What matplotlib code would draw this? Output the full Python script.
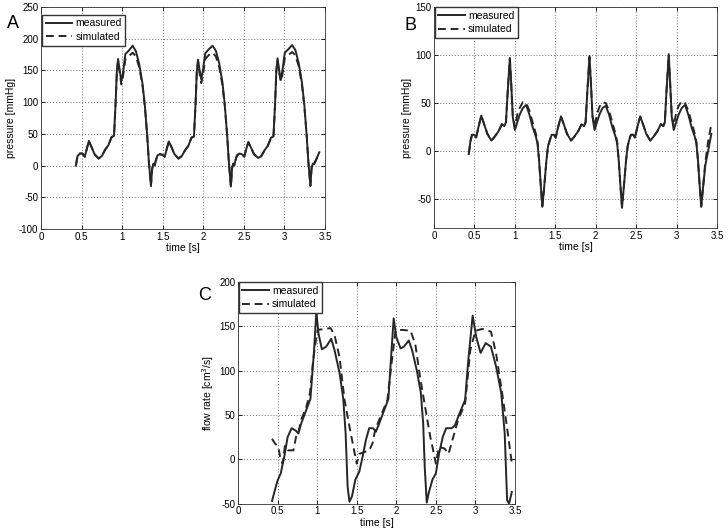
import matplotlib
matplotlib.use("Agg")
import matplotlib.pyplot as plt

plt.rcParams['font.family'] = ['Liberation Sans', 'DejaVu Sans']
plt.rcParams['axes.unicode_minus'] = False

# ---- panel A: pressure ----
t_a = [0.43, 0.45, 0.48, 0.51, 0.54, 0.56, 0.59, 0.62, 0.66, 0.71, 0.75, 0.79, 0.83, 0.87, 0.90,
       0.92, 0.935, 0.95, 0.97, 0.99, 1.01, 1.04, 1.08, 1.13, 1.17, 1.21, 1.25, 1.28, 1.31, 1.33,
       1.355, 1.37, 1.385, 1.40,
       1.415, 1.435, 1.465, 1.495, 1.525, 1.545, 1.575, 1.605, 1.645, 1.695, 1.735, 1.775, 1.815,
       1.855, 1.885, 1.905, 1.92, 1.935, 1.955, 1.975, 1.995, 2.025, 2.065, 2.115, 2.155, 2.195,
       2.235, 2.265, 2.295, 2.315, 2.34, 2.355, 2.37, 2.385,
       2.395, 2.415, 2.445, 2.475, 2.505, 2.525, 2.555, 2.585, 2.625, 2.675, 2.715, 2.755, 2.795,
       2.835, 2.865, 2.885, 2.90, 2.915, 2.935, 2.955, 2.975, 3.005, 3.045, 3.095, 3.135, 3.175,
       3.215, 3.245, 3.275, 3.295, 3.32, 3.335, 3.35, 3.365, 3.40, 3.43]
a_meas = [0, 15, 19, 19, 14, 24, 39, 30, 18, 11, 15, 25, 32, 45, 47,
          100, 150, 168, 150, 133, 145, 176, 181, 189, 180, 160, 130, 95, 45, 5,
          -32, -5, 3, 0,
          8, 16, 18, 17, 14, 24, 38, 30, 18, 11, 15, 24, 31,
          44, 46, 98, 148, 167, 150, 136, 150, 177, 183, 189, 181, 162,
          132, 96, 46, 6, -33, -4, 3, 1,
          8, 16, 19, 18, 14, 24, 37, 29, 18, 12, 15, 24, 31,
          44, 46, 98, 150, 169, 150, 135, 150, 178, 183, 190, 182, 162,
          132, 96, 46, 6, -32, -3, 3, 2, 12, 21]
a_sim = [0, 15, 19, 19, 14, 24, 39, 30, 18, 11, 15, 25, 32, 45, 47,
         100, 148, 165, 146, 128, 140, 168, 172, 178, 172, 155, 127, 93, 45, 5,
         -32, -5, 3, 0,
         8, 16, 18, 17, 14, 24, 38, 30, 18, 11, 15, 24, 31,
         44, 46, 98, 146, 164, 145, 130, 142, 168, 174, 178, 172, 156,
         128, 94, 46, 6, -33, -4, 3, 1,
         8, 16, 19, 18, 14, 24, 37, 29, 18, 12, 15, 24, 31,
         44, 46, 98, 148, 166, 147, 133, 143, 170, 174, 179, 174, 157,
         128, 94, 46, 6, -32, -3, 3, 2, 12, 21]

# ---- panel B: pressure ----
t_b = [0.43, 0.45, 0.47, 0.50, 0.52, 0.55, 0.585, 0.62, 0.66, 0.71, 0.75, 0.80, 0.84, 0.87, 0.89,
       0.91, 0.938, 0.955, 0.975, 1.0, 1.03, 1.06, 1.10, 1.14, 1.18, 1.22, 1.26, 1.28, 1.30, 1.32,
       1.34, 1.36, 1.39, 1.41,
       1.435, 1.455, 1.485, 1.505, 1.535, 1.57, 1.605, 1.645, 1.695, 1.735, 1.785, 1.825, 1.855,
       1.875, 1.895, 1.923, 1.94, 1.96, 1.985, 2.015, 2.045, 2.085, 2.125, 2.165, 2.205, 2.245,
       2.265, 2.285, 2.305, 2.325, 2.345, 2.375, 2.395,
       2.415, 2.435, 2.465, 2.485, 2.515, 2.55, 2.585, 2.625, 2.675, 2.715, 2.765, 2.805, 2.835,
       2.855, 2.875, 2.903, 2.92, 2.94, 2.965, 2.995, 3.025, 3.065, 3.105, 3.145, 3.185, 3.225,
       3.245, 3.265, 3.285, 3.305, 3.325, 3.355, 3.39, 3.43]
b_meas = [-3, 10, 17, 17, 14, 25, 37, 28, 18, 11, 15, 21, 28, 26, 30,
          60, 97, 70, 35, 22, 30, 38, 45, 48, 38, 25, 15, 8, -10, -35,
          -58, -40, -10, 5,
          12, 17, 17, 14, 25, 36, 28, 18, 11, 15, 21, 28, 26,
          30, 60, 99, 72, 36, 22, 30, 38, 45, 47, 38, 25, 15,
          8, -10, -35, -59, -40, -10, 5,
          12, 17, 17, 14, 25, 36, 28, 18, 11, 15, 21, 28, 26,
          30, 62, 101, 72, 36, 22, 30, 38, 45, 48, 38, 25, 15,
          8, -10, -35, -58, -40, -15, 0, 18]
b_sim = [-3, 10, 17, 17, 14, 25, 37, 28, 18, 11, 15, 21, 28, 26, 30,
         60, 96, 70, 36, 25, 38, 45, 51, 50, 42, 30, 18, 10, -10, -35,
         -57, -40, -10, 5,
         12, 17, 17, 14, 25, 36, 28, 18, 11, 15, 21, 28, 26,
         30, 60, 98, 72, 37, 26, 38, 46, 51, 50, 42, 30, 18,
         10, -10, -35, -58, -40, -10, 5,
         12, 17, 17, 14, 25, 36, 28, 18, 11, 15, 21, 28, 26,
         30, 62, 100, 72, 37, 26, 40, 47, 52, 50, 42, 30, 18,
         10, -10, -35, -57, -40, -12, 10, 28]

# ---- panel C: flow rate ----
t_c_meas = [0.43, 0.466, 0.50, 0.54, 0.585, 0.627, 0.678, 0.733, 0.763, 0.797, 0.86, 0.915, 0.958,
            0.99, 1.017, 1.06, 1.114, 1.178, 1.22, 1.284, 1.33, 1.36, 1.385, 1.408, 1.44, 1.483,
            1.533, 1.575, 1.617, 1.658, 1.708, 1.742, 1.783, 1.846, 1.90, 1.94, 1.967, 2.0, 2.054,
            2.096, 2.158, 2.20, 2.26, 2.31, 2.34, 2.36, 2.385, 2.41, 2.457, 2.50, 2.54, 2.587,
            2.63, 2.70, 2.74, 2.80, 2.87, 2.91, 2.965, 3.01, 3.065, 3.13, 3.196, 3.26, 3.326,
            3.37, 3.40, 3.425, 3.46]
c_meas = [-47, -35, -24, -16, 3, 25, 35, 32, 29, 40, 55, 68, 119,
          166, 142, 124, 127, 136, 123, 97, 68, 29, -31, -48, -42, -23,
          -14, 3, 22, 35, 35, 31, 40, 55, 68, 123, 159, 138, 125,
          127, 134, 123, 100, 75, 40, -10, -49, -38, -23, -16, 6, 25,
          35, 35, 38, 52, 67, 112, 162, 138, 120, 131, 127, 105, 75,
          29, -46, -50, -37]
t_c_sim = [0.43, 0.466, 0.508, 0.54, 0.564, 0.593, 0.63, 0.70, 0.733, 0.763, 0.80, 0.86, 0.91,
           0.95, 0.985, 1.008, 1.10, 1.17, 1.22, 1.283, 1.346, 1.408, 1.458, 1.50, 1.533, 1.596,
           1.658, 1.70, 1.733, 1.80, 1.888, 1.94, 1.99, 2.075, 2.18, 2.24, 2.30, 2.37, 2.43,
           2.457, 2.50, 2.54, 2.61, 2.66, 2.72, 2.78, 2.87, 2.935, 3.0, 3.087, 3.196, 3.26,
           3.35, 3.41, 3.46]
c_sim = [23, 18, 14, -1, -5, 15, 10, 10, 25, 30, 45, 58, 75,
         112, 135, 146, 147, 148, 140, 115, 67, 37, 14, -5, 6, 8,
         10, 18, 33, 48, 67, 108, 145, 146, 145, 130, 93, 56, 25,
         14, -5, 14, 12, 6, 25, 44, 63, 123, 145, 147, 144, 120,
         67, 29, -5]

x_ticks = [0, 0.5, 1, 1.5, 2, 2.5, 3, 3.5]
x_labels = ["0", "0.5", "1", "1.5", "2", "2.5", "3", "3.5"]

W, H = 728, 531
fig = plt.figure(figsize=(W / 100, H / 100), dpi=100)


def px_axes(left, top, right, bottom):
    return fig.add_axes([left / W, 1 - bottom / H, (right - left) / W, (bottom - top) / H])


def style(ax, ylim, yticks, ylabel):
    ax.set_xlim(0, 3.5)
    ax.set_ylim(*ylim)
    ax.set_xticks(x_ticks)
    ax.set_xticklabels(x_labels)
    ax.set_yticks(yticks)
    ax.tick_params(direction='in', top=True, right=True, length=3, width=0.6,
                   labelsize=7, pad=2)
    ax.grid(True, linestyle=(0, (1, 2.5)), color='#444444', linewidth=0.6)
    for s in ax.spines.values():
        s.set_linewidth(0.6)
        s.set_color('#333333')
    ax.set_xlabel("time [s]", fontsize=7.5, labelpad=1)
    ax.set_ylabel(ylabel, fontsize=7.5, labelpad=2)


def draw(ax, t1, y1, t2, y2, anchor):
    ax.plot(t1, y1, color='#262626', lw=1.4, label='measured')
    ax.plot(t2, y2, color='#262626', lw=1.4, ls=(0, (4, 2.5)), label='simulated')
    ax.legend(loc='upper left', bbox_to_anchor=anchor, fontsize=7.5, frameon=True,
              fancybox=False, edgecolor='#333333', framealpha=1, handlelength=2.5,
              handletextpad=0.35, borderpad=0.35, labelspacing=0.35, borderaxespad=0)


axA = px_axes(41, 7, 325, 229)
draw(axA, t_a, a_meas, t_a, a_sim, (0.004, 0.965))
style(axA, (-100, 250), list(range(-100, 251, 50)), "pressure [mmHg]")
fig.text(7 / W, 1 - 23 / H, "A", fontsize=13, va='center', ha='left')

axB = px_axes(434, 7, 717, 228)
draw(axB, t_b, b_meas, t_b, b_sim, (0.003, 1.0))
style(axB, (-80, 150), [-50, 0, 50, 100, 150], "pressure [mmHg]")
fig.text(404 / W, 1 - 25 / H, "B", fontsize=13, va='center', ha='left')

axC = px_axes(238, 282, 515, 503.5)
draw(axC, t_c_meas, c_meas, t_c_sim, c_sim, (0.003, 1.0))
style(axC, (-50, 200), list(range(-50, 201, 50)), "flow rate [cm$^3$/s]")
fig.text(198 / W, 1 - 295 / H, "C", fontsize=13, va='center', ha='left')

fig.savefig("out.png", dpi=100)
